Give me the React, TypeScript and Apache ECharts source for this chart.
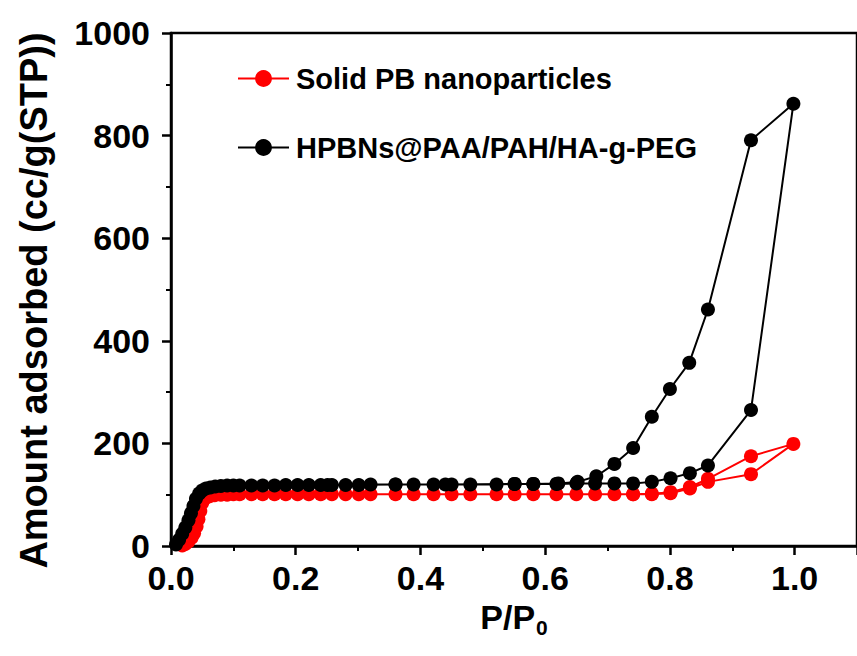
import { useEffect, useRef } from "react";
import * as echarts from "echarts";

// Solid PB nanoparticles (red): adsorption then desorption branch
const redAdsP = [0.018, 0.023, 0.028, 0.033, 0.037, 0.041, 0.044, 0.047, 0.050, 0.055, 0.062, 0.070, 0.080, 0.090, 0.100, 0.110, 0.129, 0.147, 0.166, 0.184, 0.203, 0.221, 0.240, 0.258, 0.280, 0.301, 0.320, 0.360, 0.389, 0.421, 0.450, 0.480, 0.522, 0.551, 0.581, 0.618, 0.650, 0.680, 0.711, 0.741, 0.771, 0.801, 0.832, 0.861, 0.930, 0.998];
const redAdsV = [1, 4, 9, 16, 25, 38, 52, 68, 84, 93, 97, 99, 100, 100, 101, 101, 101, 101, 101, 101, 101, 101, 101, 101, 101, 101, 101, 101, 101, 101, 101, 101, 101, 101, 101, 101, 101, 101, 101, 101, 101, 103, 112, 125, 140, 199];
const redDesP = [0.930, 0.861, 0.832, 0.801, 0.771, 0.741];
const redDesV = [175, 131, 115, 105, 102, 101];

// HPBNs@PAA/PAH/HA-g-PEG (black): adsorption then desorption branch
const blackAdsP = [0.008, 0.013, 0.018, 0.023, 0.028, 0.032, 0.036, 0.040, 0.045, 0.050, 0.056, 0.063, 0.071, 0.080, 0.090, 0.100, 0.110, 0.129, 0.147, 0.166, 0.184, 0.203, 0.221, 0.240, 0.258, 0.280, 0.301, 0.320, 0.360, 0.389, 0.421, 0.450, 0.480, 0.522, 0.551, 0.581, 0.618, 0.650, 0.680, 0.711, 0.741, 0.771, 0.801, 0.832, 0.861, 0.930, 0.998];
const blackAdsV = [3, 12, 24, 36, 50, 64, 78, 92, 102, 108, 112, 114, 116, 117, 118, 118, 118, 118, 118, 118, 119, 119, 119, 119, 119, 119, 119, 120, 120, 120, 120, 120, 120, 120, 121, 121, 121, 122, 122, 122, 122, 125, 132, 142, 157, 265, 862];
const blackDesP = [0.930, 0.861, 0.831, 0.800, 0.771, 0.741, 0.711, 0.682, 0.652, 0.621, 0.581, 0.551, 0.440, 0.360, 0.251];
const blackDesV = [791, 461, 357, 306, 252, 191, 160, 136, 125, 122, 121, 121, 120, 120, 119];

const seriesNames = ["Solid PB nanoparticles", "HPBNs@PAA/PAH/HA-g-PEG"];
const xTickStep = 0.2;
const yTickStep = 200;

const FONT = "'Liberation Sans', Arial, sans-serif";

const pairs = (xs: number[], ys: number[]) => xs.map((x, i) => [x, ys[i]]);

export default function App() {
  const ref = useRef<HTMLDivElement>(null);
  useEffect(() => {
    const chart = echarts.init(ref.current!, null, { renderer: "svg" });
    const axisCommon = {
      type: "value" as const,
      axisLine: { show: true, onZero: false, lineStyle: { color: "#000", width: 2.5 } },
      axisTick: { show: true, inside: false, length: 9, lineStyle: { color: "#000", width: 2.5 } },
      minorTick: { show: true, splitNumber: 2, length: 5, lineStyle: { color: "#000", width: 2 } },
      splitLine: { show: false },
    };
    chart.setOption({
      animation: false,
      backgroundColor: "#fff",
      grid: { left: 171, top: 33, right: -4, bottom: 110, show: true, borderColor: "#000", borderWidth: 2.5 },
      legend: {
        orient: "vertical",
        left: 232,
        top: 59,
        itemWidth: 51,
        itemHeight: 21,
        itemGap: 40,
        textStyle: { fontFamily: FONT, fontSize: 29, fontWeight: "bold", color: "#000", padding: [0, 0, 0, 2] },
        data: seriesNames,
      },
      xAxis: {
        ...axisCommon,
        min: 0,
        max: 1.1,
        interval: xTickStep,
        axisLabel: {
          margin: 15,
          fontSize: 34,
          fontWeight: "bold",
          fontFamily: FONT,
          color: "#000",
          showMaxLabel: false,
          formatter: (v: number) => v.toFixed(1),
        },
        name: "{a|P/P}{b|0}",
        nameLocation: "middle",
        nameGap: 38,
        nameTextStyle: {
          rich: {
            a: { fontSize: 34, fontWeight: "bold", fontFamily: FONT, color: "#000" },
            b: { fontSize: 21, fontWeight: "bold", fontFamily: FONT, color: "#000", padding: [22, 0, 0, 1] },
          },
        },
      },
      yAxis: {
        ...axisCommon,
        min: 0,
        max: 1000,
        interval: yTickStep,
        axisLabel: {
          margin: 21,
          fontSize: 34,
          fontWeight: "bold",
          fontFamily: FONT,
          color: "#000",
          formatter: (v: number) => String(v),
        },
        name: "Amount adsorbed (cc/g(STP))",
        nameLocation: "middle",
        nameGap: 118,
        nameRotate: 90,
        nameTextStyle: { fontSize: 38, fontWeight: "bold", fontFamily: FONT, color: "#000", padding: [0, 22, 0, 0] },
      },
      series: [
        {
          name: seriesNames[0],
          type: "line",
          data: [...pairs(redAdsP, redAdsV), ...pairs(redDesP, redDesV)],
          symbol: "circle",
          symbolSize: 14,
          color: "#ff0000",
          itemStyle: { color: "#ff0000" },
          lineStyle: { color: "#ff0000", width: 2 },
        },
        {
          name: seriesNames[1],
          type: "line",
          data: [...pairs(blackAdsP, blackAdsV), ...pairs(blackDesP, blackDesV)],
          symbol: "circle",
          symbolSize: 14,
          color: "#000",
          itemStyle: { color: "#000" },
          lineStyle: { color: "#000", width: 2 },
        },
      ],
    });
    return () => chart.dispose();
  }, []);
  return <div ref={ref} style={{ position: "fixed", left: 0, top: 0, width: 857, height: 656 }} />;
}
